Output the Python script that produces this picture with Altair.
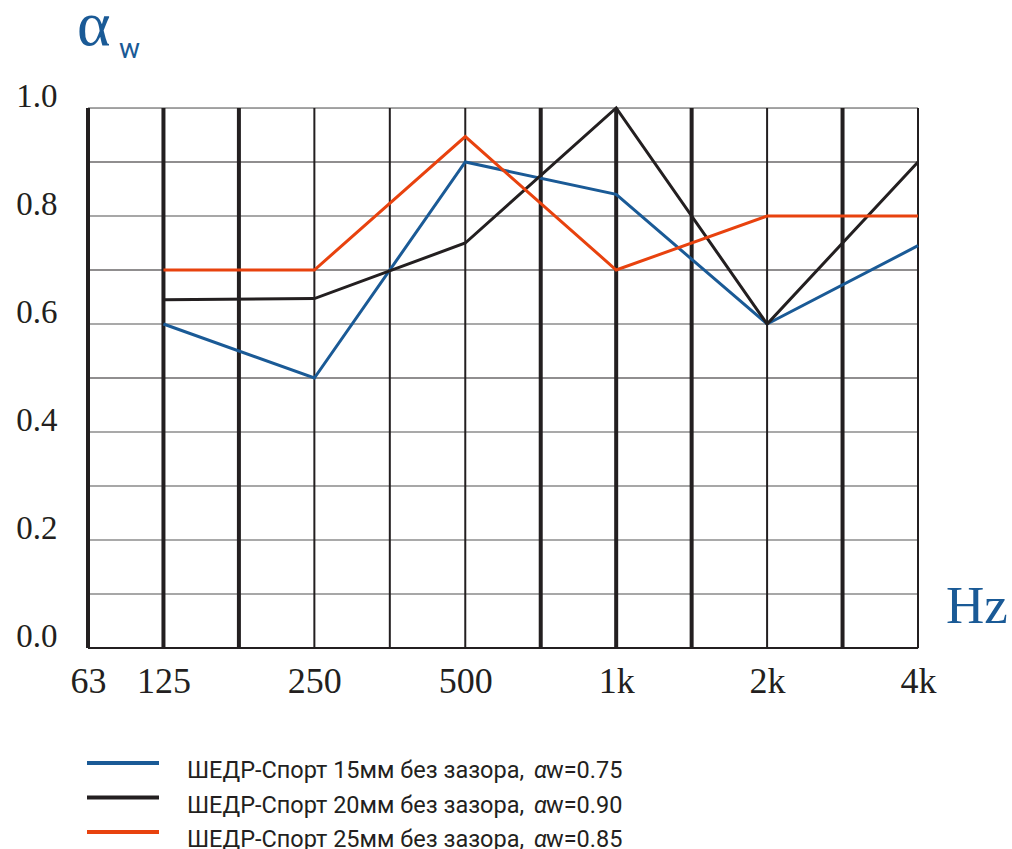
import altair as alt
import pandas as pd

# ---- data ----
freq_labels = ["63", "125", "250", "500", "1k", "2k", "4k"]
freq_pos = [0, 1, 3, 5, 7, 9, 11]          # half-octave grid index of each label
band_pos = [1, 3, 5, 7, 9, 11]             # 125 .. 4k
series_names = [
    "ШЕДР-Спорт 15мм без зазора,",
    "ШЕДР-Спорт 20мм без зазора,",
    "ШЕДР-Спорт 25мм без зазора,",
]
series_aw = ["w=0.75", "w=0.90", "w=0.85"]
series_colors = ["#1a5a96", "#231f20", "#e8420e"]
vals_15 = [0.60, 0.50, 0.90, 0.84, 0.60, 0.745]
vals_20 = [0.645, 0.647, 0.75, 1.00, 0.60, 0.90]
vals_25 = [0.70, 0.70, 0.947, 0.70, 0.80, 0.80]
vgrid_thick = [0, 1, 2, 6, 7, 8, 10]
vgrid_thin = [3, 4, 5, 9, 11]
hgrid_dark = [0.5, 0.7, 0.9]
hgrid_mid = [0.2, 0.4, 0.6]
hgrid_light = [0.1, 0.3, 0.8, 1.0]
y_ticks = [0.0, 0.2, 0.4, 0.6, 0.8, 1.0]

rows = []
for name, vals in zip(series_names, [vals_15, vals_20, vals_25]):
    for p, v in zip(band_pos, vals):
        rows.append({"series": name, "pos": p, "alpha": v})
df = pd.DataFrame(rows)

W, H = 830, 540
xscale = alt.Scale(domain=[0, 11], range=[0, W], nice=False, zero=False)
yscale = alt.Scale(domain=[0, 1], range=[H, 0], nice=False, zero=False)
color_scale = alt.Scale(domain=series_names, range=series_colors)

label_expr = " : ".join(
    f"datum.value == {p} ? '{l}'" for p, l in zip(freq_pos, freq_labels)
) + " : ''"

x_axis = alt.Axis(
    values=freq_pos, labelExpr=label_expr, title=None, domain=False, ticks=False,
    grid=False, labelFont="Liberation Serif", labelFontSize=36, labelColor="#231f20",
    labelBaseline="alphabetic", labelPadding=44, labelFlush=False, labelOverlap=False,
    labelAngle=0)

# axes carrier layer (invisible)
axes = alt.Chart(pd.DataFrame({"pos": freq_pos, "alpha": [0] * len(freq_pos)})).mark_point(
    opacity=0
).encode(
    x=alt.X("pos:Q", scale=xscale, axis=x_axis),
    y=alt.Y("alpha:Q", scale=yscale, axis=alt.Axis(
        values=y_ticks, format=".1f", title=None, domain=False, ticks=False, grid=False,
        labelFont="Liberation Serif", labelFontSize=33, labelColor="#231f20",
        labelBaseline="alphabetic", labelPadding=31, labelOffset=-2, labelOverlap=False)),
)

def hlines(values, color, width):
    return alt.Chart(pd.DataFrame({"alpha": values})).mark_rule(
        color=color, strokeWidth=width
    ).encode(y=alt.Y("alpha:Q", scale=yscale, axis=None))

def vlines(values, width):
    return alt.Chart(pd.DataFrame({"pos": values})).mark_rule(
        color="#231f20", strokeWidth=width
    ).encode(x=alt.X("pos:Q", scale=xscale, axis=x_axis))

grid = [
    hlines(hgrid_light, "#8a8a8a", 1.5),
    hlines(hgrid_mid, "#555555", 1.2),
    hlines(hgrid_dark, "#231f20", 1.2),
    hlines([0.0], "#231f20", 2),
    vlines(vgrid_thin, 2),
    vlines(vgrid_thick, 4),
]

lines = alt.Chart(df).mark_line(strokeWidth=3, strokeJoin="miter").encode(
    x=alt.X("pos:Q", scale=xscale, axis=x_axis),
    y=alt.Y("alpha:Q", scale=yscale, axis=None),
    color=alt.Color("series:N", scale=color_scale, legend=None),
    order=alt.Order("pos:Q"),
)

# titles
t_alpha = alt.Chart(pd.DataFrame({"t": ["α"]})).mark_text(
    font="Liberation Serif", fontSize=64, color="#1a5a96",
    align="left", baseline="alphabetic"
).encode(x=alt.value(-11), y=alt.value(-63), text="t:N")
t_w = alt.Chart(pd.DataFrame({"t": ["w"]})).mark_text(
    font="Roboto", fontSize=28, color="#1a5a96", align="left", baseline="alphabetic"
).encode(x=alt.value(31), y=alt.value(-50), text="t:N")
t_hz = alt.Chart(pd.DataFrame({"t": ["Hz"]})).mark_text(
    font="Liberation Serif", fontSize=53, color="#1a5a96", align="left", baseline="alphabetic"
).encode(x=alt.value(858), y=alt.value(515), text="t:N")

# legend
leg_df = pd.DataFrame({"series": series_names, "aw": series_aw, "row": [0, 1, 2]})
leg_y = alt.Scale(domain=[0, 2], range=[655, 724], nice=False, zero=False)
leg_lines = alt.Chart(leg_df).mark_rule(strokeWidth=4).encode(
    x=alt.value(-1), x2=alt.value(71),
    y=alt.Y("row:Q", scale=leg_y, axis=None),
    color=alt.Color("series:N", scale=color_scale, legend=None),
)
LF = 23.5
leg_text = alt.Chart(leg_df).mark_text(
    font="Roboto", fontSize=LF, color="#231f20", align="left", baseline="alphabetic", dy=15
).encode(x=alt.value(99), y=alt.Y("row:Q", scale=leg_y, axis=None), text="series:N")
leg_a = alt.Chart(leg_df).mark_text(
    font="Roboto", fontSize=LF, fontStyle="italic", color="#231f20", align="left",
    baseline="alphabetic", dy=15
).encode(x=alt.value(446), y=alt.Y("row:Q", scale=leg_y, axis=None), text=alt.value("α"))
leg_w = alt.Chart(leg_df).mark_text(
    font="Roboto", fontSize=LF, color="#231f20", align="left", baseline="alphabetic", dy=15
).encode(x=alt.value(458), y=alt.Y("row:Q", scale=leg_y, axis=None), text="aw:N")

chart = alt.layer(
    *grid, axes, lines, t_alpha, t_w, t_hz, leg_lines, leg_text, leg_a, leg_w
).resolve_scale(y="independent").properties(
    width=W, height=H,
    autosize=alt.AutoSizeParams(type="none"),
    padding={"left": 88, "top": 108, "right": 94, "bottom": 201},
).configure_view(stroke=None).configure(background="white")

chart.save("out.html", embed_options={"renderer": "svg", "actions": False})
